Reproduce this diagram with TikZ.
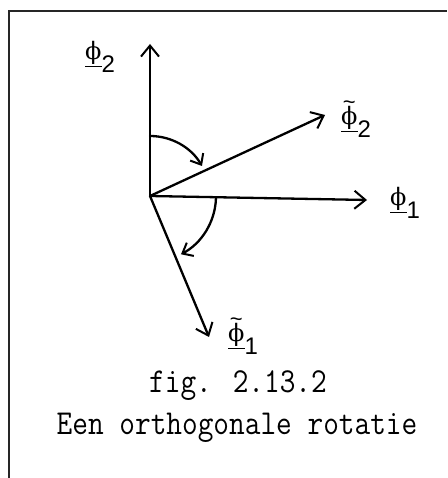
\documentclass[tikz,border=0pt]{standalone}
\usepackage{fontspec}
\usepackage{graphicx}
\newfontfamily\subfont{Liberation Sans}
\newfontfamily\phifont{DejaVu Serif}
\usetikzlibrary{arrows.meta}
\tikzset{
  vec/.style={line width=2.3pt, line cap=round, -{Straight Barb[length=11pt,width=18pt,line width=2pt]}},
  rot/.style={line width=2.3pt, line cap=round, -{Straight Barb[length=9pt,width=15pt,line width=2pt]}},
  lbl/.style={inner sep=0pt, font=\fontsize{26}{30}\selectfont},
  captext/.style={inner sep=0pt, font=\ttfamily\fontsize{35}{40}\selectfont, anchor=base},
  framerule/.style={line width=1.6pt, draw=black!85}
}
\newcommand{\uphi}{\underline{\phifont\fontsize{24}{24}\selectfont ϕ}}
\newcommand{\tphi}{\vbox{\offinterlineskip\halign{\hfil##\hfil\cr
  {\subfont\fontsize{22}{22}\selectfont\char"7E}\cr\noalign{\kern-3pt}\uphi\cr}}}
\newcommand{\vlab}[2]{#1\raisebox{-13pt}{\subfont\fontsize{24}{24}\selectfont #2}}
\begin{document}
\begin{tikzpicture}[x=1pt,y=1pt]
\useasboundingbox (0,0) rectangle (447,478);
\draw[framerule] (9,0) -- (9,467) -- (447,467);

\coordinate (O) at (150,282);
\coordinate (e2) at (150,434);
\coordinate (e1) at (367,278);
\coordinate (t2) at (325,363);
\coordinate (t1) at (209,141);

\draw[vec] (O) -- (e2);
\draw[vec] (O) -- (e1);
\draw[vec] (O) -- (t2);
\draw[vec] (O) -- (t1);

\draw[rot] ([shift={(90:60)}]O) arc[start angle=90,end angle=30,radius=60];
\draw[rot] ([shift={(-2:66)}]O) arc[start angle=-2,end angle=-62,radius=66];

\node[lbl] (l2) at (100,421) {\vlab{\uphi}{2}};
\node[lbl] (l1) at (405,275) {\vlab{\uphi}{1}};
\node[lbl] (lt2) at (356,359) {\vlab{\tphi}{2}};
\node[lbl] (lt1) at (243,142) {\vlab{\tphi}{1}};

\node[captext] (fig) at (238,85) {\scalebox{0.87}[1]{fig. 2.13.2}};
\node[captext] (title) at (237,43) {\scalebox{0.87}[1]{Een orthogonale rotatie}};
\end{tikzpicture}
\end{document}
